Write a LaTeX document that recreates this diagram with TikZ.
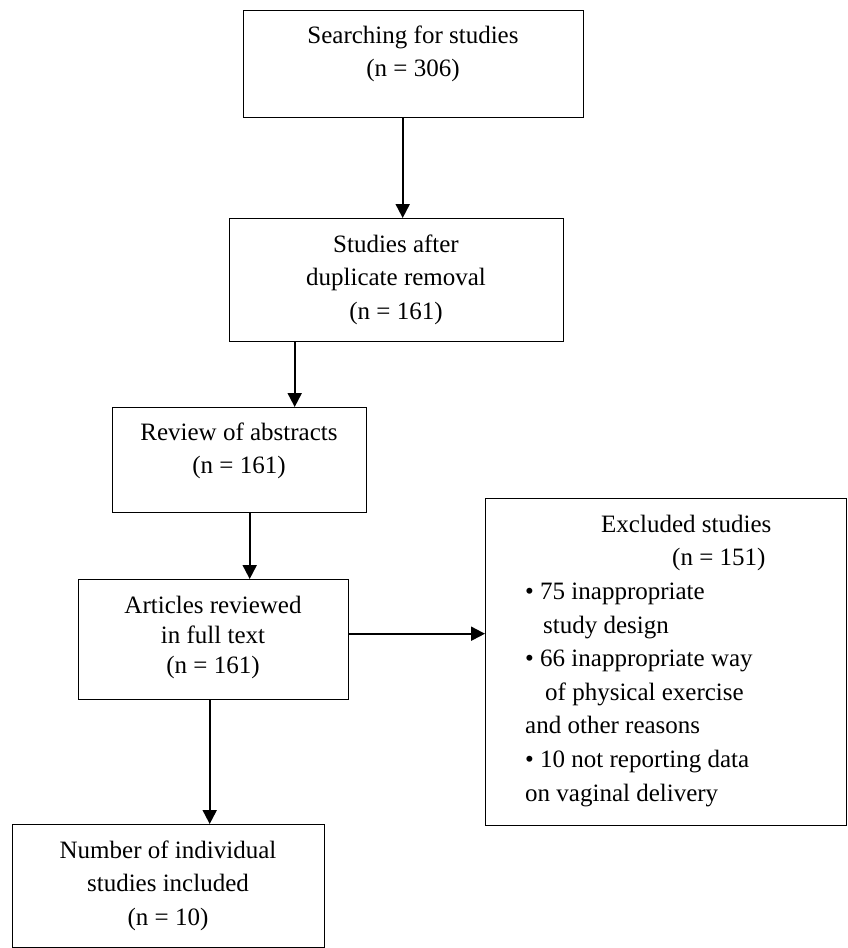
\documentclass[tikz,border=0pt]{standalone}
\usepackage{fontspec}
\setmainfont{Liberation Serif}
\usetikzlibrary{arrows.meta}
\tikzset{
  box/.style={draw=black, line width=1.4pt, fill=none, inner sep=0pt, anchor=north west},
  txt/.style={inner sep=0pt, anchor=north, align=center, font=\fontsize{25pt}{33.5pt}\selectfont},
  txtl/.style={inner sep=0pt, anchor=north west, align=left, font=\fontsize{25pt}{33.6pt}\selectfont},
  arr/.style={line width=2pt, -{Triangle[length=14pt,width=14pt]}}
}
\newcommand{\fl}{\rule{0pt}{24pt}}
\begin{document}
\begin{tikzpicture}[x=1pt,y=-1pt]
\useasboundingbox (0,0) rectangle (848,948);
% boxes
\node[box, minimum width=340pt, minimum height=107pt] (b1) at (243,10) {};
\node[box, minimum width=334pt, minimum height=123pt] (b2) at (229,218) {};
\node[box, minimum width=254pt, minimum height=105pt] (b3) at (112,407) {};
\node[box, minimum width=270pt, minimum height=120pt] (b4) at (78,579) {};
\node[box, minimum width=361pt, minimum height=327pt] (b5) at (485,498) {};
\node[box, minimum width=312pt, minimum height=123pt] (b6) at (12,824) {};
% texts
\node[txt] (t1) at (413,19) {\fl Searching for studies\\(n = 306)};
\node[txt] (t2) at (396,228) {\fl Studies after\\duplicate removal\\(n = 161)};
\node[txt] (t3) at (239,416) {\fl Review of abstracts\\(n = 161)};
\node[txt, font=\fontsize{25pt}{30pt}\selectfont] (t4) at (213,589) {\fl Articles reviewed\\in full text\\(n = 161)};
\node[txt] (t6) at (168,834) {\fl Number of individual\\studies included\\(n = 10)};
\node[txtl] (t5) at (525,508) {\fl\hspace*{76pt}Excluded studies\\
\hspace*{147pt}(n = 151)\\
• 75 inappropriate\\
\hspace*{18pt}study design\\
• 66 inappropriate way\\
\hspace*{20pt}of physical exercise\\
and other reasons\\
• 10 not reporting data\\
on vaginal delivery};
% connectors
\draw[arr] ([xshift=-11pt]b1.south) -- ([xshift=6pt]b2.north);
\draw[arr] ([xshift=-102pt]b2.south) -- ([xshift=55pt]b3.north);
\draw[arr] ([xshift=10pt]b3.south) -- ([xshift=36pt]b4.north);
\draw[arr] ([xshift=-4pt]b4.south) -- ([xshift=41pt]b6.north);
\draw[arr] ([yshift=6pt]b4.east) -- ([yshift=28.5pt]b5.west);
\end{tikzpicture}
\end{document}
